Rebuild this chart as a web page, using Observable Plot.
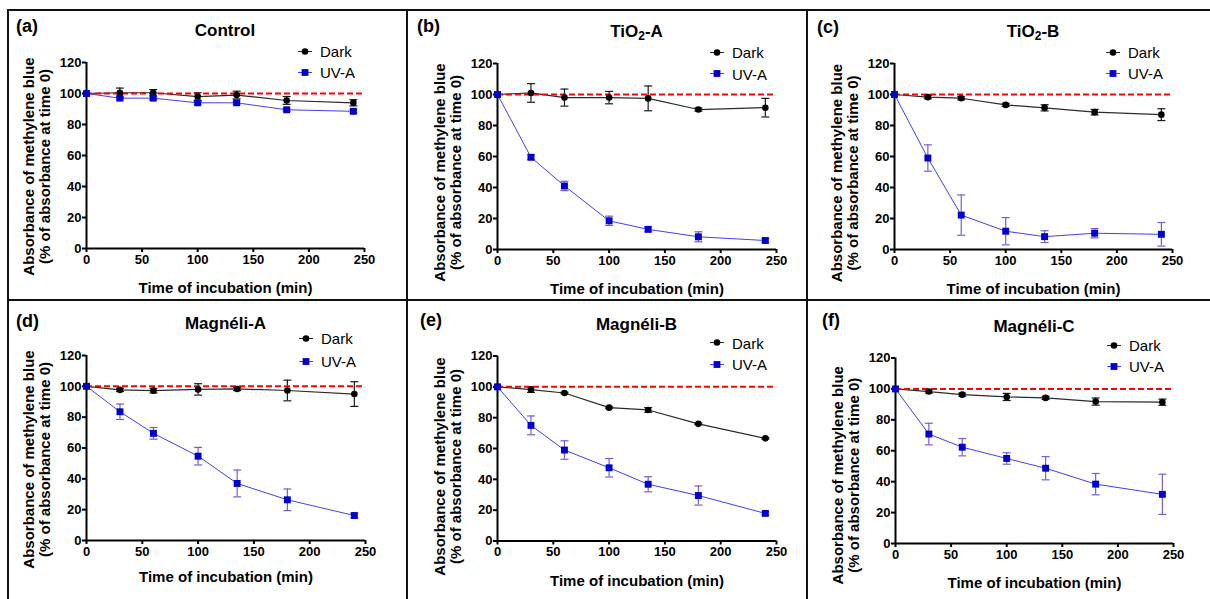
<!DOCTYPE html>
<html>
<head>
<meta charset="utf-8">
<script src="https://cdn.jsdelivr.net/npm/d3@7"></script>
<script src="https://cdn.jsdelivr.net/npm/@observablehq/plot@0.6"></script>
<style>
  body { margin: 0; background: #fff; font-family: "Liberation Sans", Arial, sans-serif; }
  #root { position: relative; width: 1210px; height: 599px; overflow: hidden; background: #fff; }
  .rule { position: absolute; background: #111; }
  .abs { position: absolute; white-space: nowrap; line-height: 1; color: #000; }
  .letter { font-weight: bold; font-size: 18px; transform: translateY(-50%); }
  .title { font-weight: bold; font-size: 17px; transform: translate(-50%, -50%); }
  .title sub { font-size: 12px; vertical-align: -3px; line-height: 0; }
  .leg { display: flex; align-items: center; font-size: 15px; transform: translateY(-50%); }
  .leg svg { display: block; margin-right: 7px; }
  .panel { position: absolute; }
</style>
</head>
<body>
<div id="root"></div>
<script>
// ---------------- data ----------------
const times = [0, 30, 60, 100, 135, 180, 240];
const panelLetters = ["(a)", "(b)", "(c)", "(d)", "(e)", "(f)"];
const panelTitles = ["Control", "TiO<sub>2</sub>-A", "TiO<sub>2</sub>-B", "Magnéli-A", "Magnéli-B", "Magnéli-C"];
const seriesNames = ["Dark", "UV-A"];
const xTicks = [0, 50, 100, 150, 200, 250];
const yTicks = [0, 20, 40, 60, 80, 100, 120];
const xLabel = "Time of incubation (min)";
const yLabel = "Absorbance of methylene blue\n(% of absorbance at time 0)";
const referenceLevel = [100];

// mean values (% of absorbance at time 0), one row per panel
const darkMean = [
  [100, 100.5, 100.5, 98, 99, 95.5, 94],
  [100, 101, 98, 98, 97.5, 90.3, 91.5],
  [100, 98.3, 97.6, 93.3, 91.4, 88.6, 87],
  [100, 97.7, 97.2, 98, 98.3, 97.3, 95],
  [100, 98.2, 96, 86.5, 85, 76, 66.6],
  [100, 98.3, 96.3, 94.8, 94.2, 91.8, 91.4]
];
const darkSD = [
  [0, 3, 2, 2.5, 2.5, 2.5, 2],
  [0, 6, 5.5, 4, 8, 1, 6],
  [0, 1, 1, 1, 2, 1.8, 3.8],
  [0, 1, 1.5, 3.7, 1, 6.7, 8],
  [0, 1.8, 0.5, 0.5, 1.5, 0.5, 0.5],
  [0, 1, 1, 2.3, 1, 2.3, 2]
];
const uvMean = [
  [100, 97, 97, 94, 94, 89.5, 88.5],
  [100, 59.5, 41, 18.5, 13, 8.2, 5.8],
  [100, 59, 22.2, 11.8, 8.3, 10.5, 9.8],
  [100, 83.5, 69.5, 54.7, 37, 26.4, 16.2],
  [100, 75, 59, 47.5, 36.8, 29.5, 17.9],
  [100, 70.8, 62.3, 55, 48.7, 38.4, 31.8]
];
const uvSD = [
  [0, 1, 1, 1, 1, 1, 1],
  [0, 1.5, 3, 3, 1.5, 3.2, 1.2],
  [0, 8.5, 13, 8.8, 3.8, 3, 7.6],
  [0, 5, 3.8, 5.7, 8.7, 7, 1.5],
  [0, 6.1, 6, 6, 4.9, 6.2, 1],
  [0, 7, 5.6, 3.7, 7.5, 6.9, 13]
];

// ---------------- layout (pixels) ----------------
const layout = [
  {bx: 8,   by: 10,  w: 399, h: 290, x0: 86,  x1: 364,  yb: 248,   yt: 62,    ylabDy: 11,   xlabDy: 40,   lx: 8,  ly: 16,   legD: -11,  legU: 10},
  {bx: 407, by: 10,  w: 400, h: 290, x0: 497, x1: 776,  yb: 249,   yt: 63,    ylabDy: 16,   xlabDy: 40,   lx: 10, ly: 16,   legD: -11,  legU: 10.5},
  {bx: 807, by: 10,  w: 403, h: 290, x0: 894, x1: 1172, yb: 249,   yt: 63,    ylabDy: 16.5, xlabDy: 40,   lx: 10, ly: 16.5, legD: -11,  legU: 10},
  {bx: 8,   by: 300, w: 399, h: 299, x0: 86,  x1: 365,  yb: 540,   yt: 355,   ylabDy: 11.5, xlabDy: 37,   lx: 8,  ly: 20.5, legD: -17,  legU: 6},
  {bx: 407, by: 300, w: 400, h: 299, x0: 497, x1: 776,  yb: 540.5, yt: 355.5, ylabDy: 18,   xlabDy: 40.5, lx: 13, ly: 20,   legD: -13,  legU: 8.5},
  {bx: 807, by: 300, w: 403, h: 299, x0: 895, x1: 1173, yb: 543,   yt: 357.5, ylabDy: 24.5, xlabDy: 40,   lx: 15, ly: 20,   legD: -12.5, legU: 8.5}
];

const darkColor = "#000";
const darkLine = "#2a2a2a";
const darkBar = "#1a1a1a";
const uvColor = "#0000cc";
const uvLine = "#4040f0";
const uvBar = "#7a5cd0";

const capSymbol = {
  draw(context) { context.moveTo(-4, 0); context.lineTo(4, 0); }
};

const root = document.getElementById("root");

function addRule(x, y, w, h) {
  const d = document.createElement("div");
  d.className = "rule";
  Object.assign(d.style, {left: x + "px", top: y + "px", width: w + "px", height: h + "px"});
  root.appendChild(d);
}

function legendSymbol(kind) {
  const c = kind === 0
    ? `<line x1="1" x2="15" y1="7" y2="7" stroke="${darkLine}" stroke-width="1.2"/><circle cx="8" cy="7" r="3.3" fill="${darkColor}"/>`
    : `<line x1="1" x2="15" y1="7" y2="7" stroke="${uvLine}" stroke-width="1.2"/><rect x="4.6" y="3.6" width="6.8" height="6.8" fill="${uvColor}"/>`;
  return `<svg width="16" height="14" viewBox="0 0 16 14">${c}</svg>`;
}

layout.forEach((L, i) => {
  const dark = times.map((t, j) => ({t, y: darkMean[i][j], e: darkSD[i][j]}));
  const uv = times.map((t, j) => ({t, y: uvMean[i][j], e: uvSD[i][j]}));
  const darkE = dark.filter(d => d.e > 0);
  const uvE = uv.filter(d => d.e > 0);

  const chart = Plot.plot({
    width: L.w,
    height: L.h,
    marginLeft: L.x0 - L.bx,
    marginRight: L.w - (L.x1 - L.bx),
    marginTop: L.yt - L.by,
    marginBottom: L.h - (L.yb - L.by),
    x: {domain: [0, 250]},
    y: {domain: [0, 120]},
    style: {fontFamily: "'Liberation Sans', Arial, sans-serif", fontWeight: "bold", fontSize: "13px", color: "#000", background: "transparent", overflow: "visible"},
    marks: [
      Plot.axisX({ticks: xTicks, tickSize: 4, tickPadding: 2, strokeWidth: 2, label: null, fontSize: 13, tickFormat: d => String(d)}),
      Plot.axisY({ticks: yTicks, tickSize: 4, tickPadding: 1, strokeWidth: 2, label: null, fontSize: 13, tickFormat: d => String(d)}),
      Plot.ruleX([0], {stroke: "#000", strokeWidth: 2}),
      Plot.ruleY([0], {stroke: "#000", strokeWidth: 2}),
      // error bars
      Plot.ruleX(darkE, {x: "t", y1: d => d.y - d.e, y2: d => d.y + d.e, stroke: darkBar, strokeWidth: 1.2}),
      Plot.dot(darkE, {x: "t", y: d => d.y + d.e, symbol: capSymbol, stroke: darkBar, strokeWidth: 1.2, fill: "none"}),
      Plot.dot(darkE, {x: "t", y: d => d.y - d.e, symbol: capSymbol, stroke: darkBar, strokeWidth: 1.2, fill: "none"}),
      Plot.ruleX(uvE, {x: "t", y1: d => d.y - d.e, y2: d => d.y + d.e, stroke: uvBar, strokeWidth: 1.2}),
      Plot.dot(uvE, {x: "t", y: d => d.y + d.e, symbol: capSymbol, stroke: uvBar, strokeWidth: 1.2, fill: "none"}),
      Plot.dot(uvE, {x: "t", y: d => d.y - d.e, symbol: capSymbol, stroke: uvBar, strokeWidth: 1.2, fill: "none"}),
      // lines
      Plot.line(dark, {x: "t", y: "y", stroke: darkLine, strokeWidth: 1.2}),
      Plot.line(uv, {x: "t", y: "y", stroke: uvLine, strokeWidth: 1}),
      Plot.ruleY(referenceLevel, {stroke: "#ff0000", strokeWidth: 2, strokeDasharray: "6,3"}),
      // markers
      Plot.dot(dark, {x: "t", y: "y", r: 3.3, symbol: "circle", fill: darkColor, stroke: "none"}),
      Plot.dot(uv, {x: "t", y: "y", r: 3.9, symbol: "square", fill: uvColor, stroke: "none"}),
      // axis titles
      Plot.text([xLabel], {frameAnchor: "bottom", dy: L.xlabDy, text: d => d, fontSize: 15, fontWeight: "bold", lineAnchor: "middle", textAnchor: "middle"}),
      Plot.text([yLabel], {frameAnchor: "left", dx: -49.5, dy: L.ylabDy, rotate: -90, text: d => d, fontSize: 15, fontWeight: "bold", lineAnchor: "middle", textAnchor: "middle", lineHeight: 1.03})
    ]
  });
  chart.classList.add("panel");
  chart.style.left = L.bx + "px";
  chart.style.top = L.by + "px";
  root.appendChild(chart);

  const letter = document.createElement("div");
  letter.className = "abs letter";
  letter.textContent = panelLetters[i];
  letter.style.left = (L.bx + L.lx) + "px";
  letter.style.top = (L.by + L.ly) + "px";
  root.appendChild(letter);

  const title = document.createElement("div");
  title.className = "abs title";
  title.innerHTML = panelTitles[i];
  title.style.left = ((L.x0 + L.x1) / 2) + "px";
  title.style.top = (L.yt - 32) + "px";
  root.appendChild(title);

  const mx = L.x1 - 59;
  [L.legD, L.legU].forEach((off, k) => {
    const g = document.createElement("div");
    g.className = "abs leg";
    g.innerHTML = legendSymbol(k) + `<span>${seriesNames[k]}</span>`;
    g.style.left = (mx - 8) + "px";
    g.style.top = (L.yt + off) + "px";
    root.appendChild(g);
  });
});

// panel frame lines
addRule(8, 9, 1202, 1.6);
addRule(7, 9, 1.6, 590);
addRule(406, 9, 1.6, 590);
addRule(806, 9, 1.6, 590);
addRule(7, 299, 1203, 1.6);
</script>
</body>
</html>
